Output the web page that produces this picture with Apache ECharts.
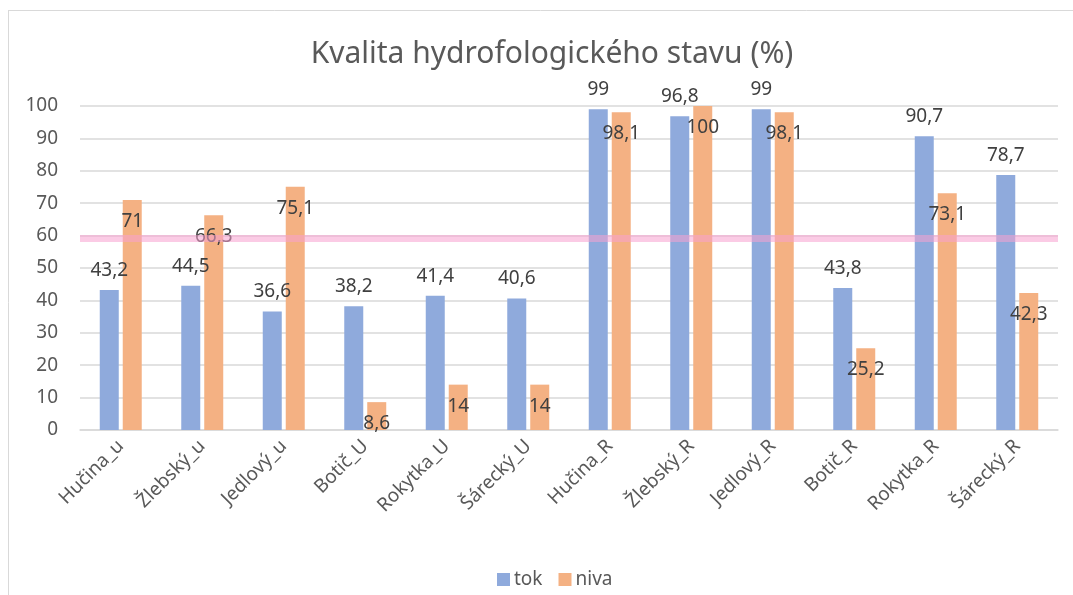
<!DOCTYPE html>
<html>
<head>
<meta charset="utf-8">
<script src="https://cdn.jsdelivr.net/npm/echarts@6/dist/echarts.min.js"></script>
<style>
html,body{margin:0;padding:0;background:#fff;}
#c{width:1073px;height:595px;}
</style>
</head>
<body>
<div id="c"></div>
<script>
const categories = ['Hučina_u','Žlebský_u','Jedlový_u','Botič_U','Rokytka_U','Šárecký_U','Hučina_R','Žlebský_R','Jedlový_R','Botič_R','Rokytka_R','Šárecký_R'];
const tokValues = [43.2, 44.5, 36.6, 38.2, 41.4, 40.6, 99, 96.8, 99, 43.8, 90.7, 78.7];
const nivaValues = [71, 66.3, 75.1, 8.6, 14, 14, 98.1, 100, 98.1, 25.2, 73.1, 42.3];
const thresholdValue = 59.3;
const yTicks = {min: 0, max: 100, interval: 10};

const FONT = 'Noto Sans';
const fmt = p => String(p.value).replace('.', ',');

const chart = echarts.init(document.getElementById('c'), null, {renderer: 'canvas'});
chart.setOption({
  animation: false,
  backgroundColor: '#ffffff',
  textStyle: {fontFamily: FONT},
  title: {
    text: 'Kvalita hydrofologického stavu (%)',
    left: 547,
    top: 34,
    textAlign: 'center',
    textStyle: {fontFamily: FONT, fontSize: 30, fontWeight: 'normal', color: '#595959'}
  },
  legend: {
    data: ['tok', 'niva'],
    left: 492,
    top: 565,
    itemWidth: 13,
    itemHeight: 13,
    itemGap: 16,
    icon: 'rect',
    textStyle: {fontFamily: FONT, fontSize: 19, color: '#595959', padding: [0, 0, 0, -1]}
  },
  graphic: [
    {type: 'line', shape: {x1: 8, y1: 10.5, x2: 1073, y2: 10.5}, style: {stroke: '#d9d9d9', lineWidth: 1}, silent: true},
    {type: 'line', shape: {x1: 8.5, y1: 10, x2: 8.5, y2: 595}, style: {stroke: '#d9d9d9', lineWidth: 1}, silent: true}
  ],
  grid: {left: 80, right: 15, top: 106, bottom: 165, containLabel: false},
  xAxis: {
    type: 'category',
    data: categories,
    axisLine: {show: true, lineStyle: {color: '#d9d9d9', width: 1.5}},
    axisTick: {show: false},
    axisLabel: {rotate: 45, margin: 13, fontFamily: FONT, fontSize: 19, color: '#595959', interval: 0}
  },
  yAxis: {
    type: 'value',
    min: yTicks.min,
    max: yTicks.max,
    interval: yTicks.interval,
    axisLine: {show: false},
    axisTick: {show: false},
    splitLine: {lineStyle: {color: '#d9d9d9', width: 1.5}},
    axisLabel: {margin: 22, fontFamily: FONT, fontSize: 19, color: '#595959'}
  },
  series: [
    {
      name: 'tok',
      type: 'bar',
      data: tokValues,
      barWidth: 19,
      barGap: '21%',
      itemStyle: {color: '#8faadc'},
      label: {show: true, position: 'top', distance: 10, formatter: fmt, fontFamily: FONT, fontSize: 19, color: '#404040'},
      markLine: {
        silent: true,
        symbol: ['none', 'none'],
        label: {show: false},
        lineStyle: {color: 'rgba(248,160,208,0.55)', width: 7, type: 'solid'},
        data: [{yAxis: thresholdValue}]
      }
    },
    {
      name: 'niva',
      type: 'bar',
      data: nivaValues,
      barWidth: 19,
      itemStyle: {color: '#f4b183'},
      label: {show: true, position: 'insideTop', distance: 12, formatter: fmt, fontFamily: FONT, fontSize: 19, color: '#404040'}
    }
  ]
});
</script>
</body>
</html>
